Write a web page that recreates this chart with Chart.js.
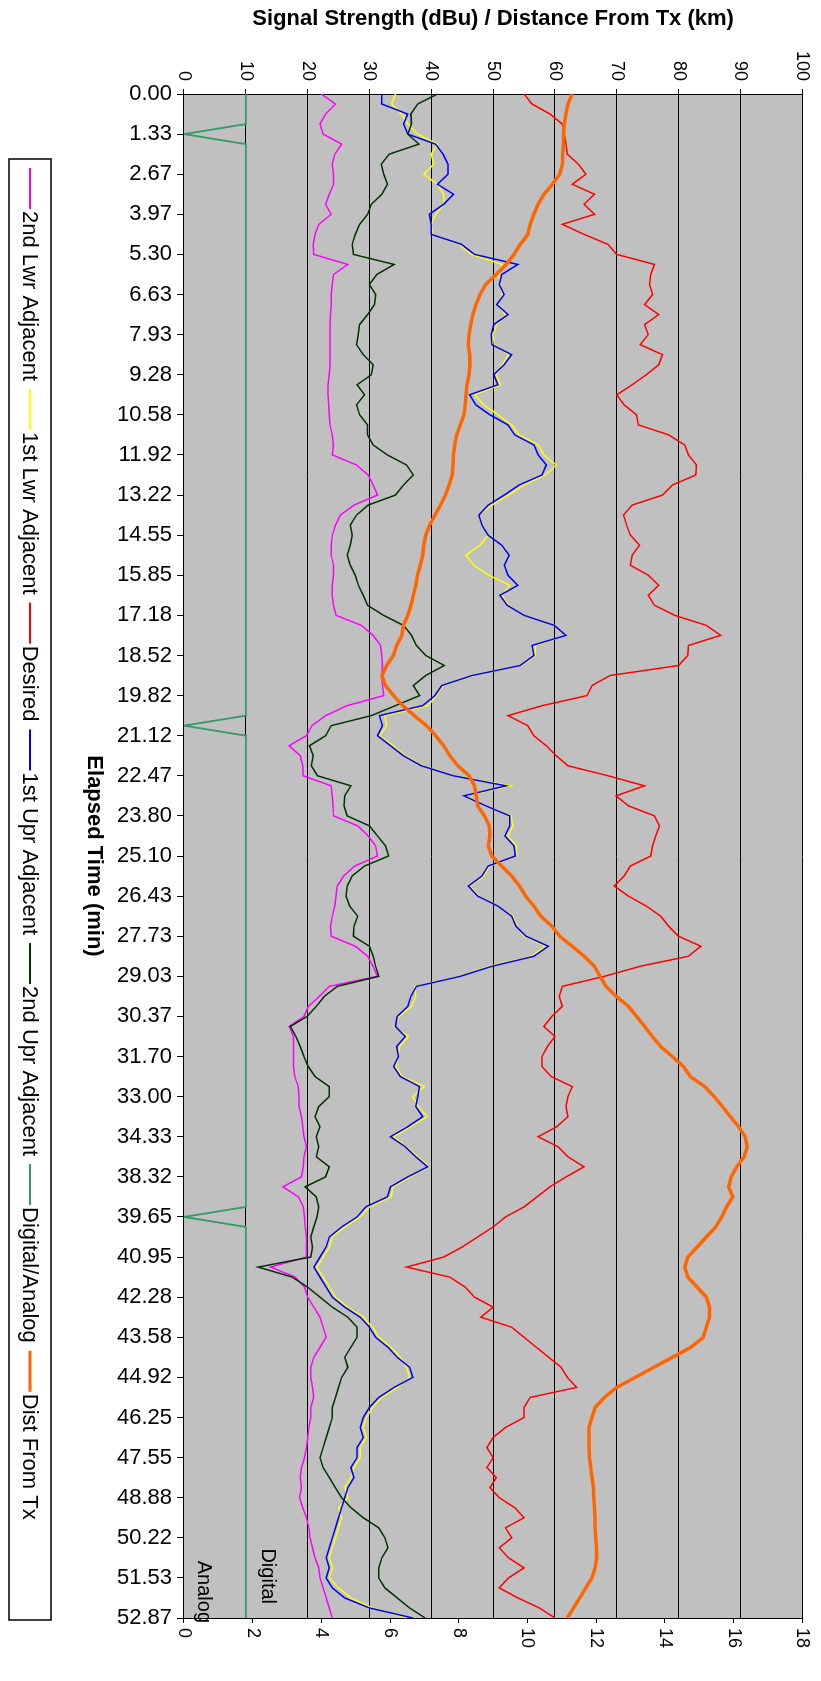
<!DOCTYPE html>
<html>
<head>
<meta charset="utf-8">
<title>Signal Strength vs Elapsed Time</title>
<script src="https://cdn.jsdelivr.net/npm/chart.js@4.4.1/dist/chart.umd.min.js"></script>
<style>
  html, body { margin: 0; padding: 0; background: #fff; }
  body { width: 821px; height: 1681px; overflow: hidden; position: relative; }
  /* the chart is laid out landscape and turned a quarter clockwise */
  #turn { position: absolute; left: 0; top: 0; width: 1681px; height: 821px;
          transform-origin: 0 0; transform: translate(821px, 0) rotate(90deg); }
</style>
</head>
<body>
<div id="turn"><canvas id="signalChart" width="1681" height="821"></canvas></div>
<script>
// labelled elapsed-time ticks (min); 4 samples per labelled step
const timeTicks = ['0.00','1.33','2.67','3.97','5.30','6.63','7.93','9.28','10.58','11.92',
  '13.22','14.55','15.85','17.18','18.52','19.82','21.12','22.47','23.80','25.10',
  '26.43','27.73','29.03','30.37','31.70','33.00','34.33','38.32','39.65','40.95',
  '42.28','43.58','44.92','46.25','47.55','48.88','50.22','51.53','52.87'];
const STEP = 4;

// dBu
const lwr2nd = [
  22.2, 24.5, 22.9, 22.0, 22.5, 25.5, 24.4, 24.0, 24.2, 24.2, 23.5, 22.9, 23.8, 21.8,
  21.2, 20.9, 21.0, 26.5, 24.2, 24.0, 23.8, 23.8, 23.7, 23.6, 23.6, 23.6, 23.6, 23.6,
  23.5, 23.3, 23.3, 23.4, 23.5, 23.6, 24.0, 24.2, 24.0, 27.9, 29.8, 30.6, 31.3, 27.5,
  25.3, 24.5, 24.0, 23.8, 23.8, 24.2, 24.2, 24.0, 24.0, 24.2, 24.6, 28.7, 30.6, 31.8,
  32.0, 32.1, 32.0, 32.1, 32.3, 26.4, 22.9, 20.7, 19.8, 17.0, 18.8, 19.2, 19.3, 23.8,
  24.0, 24.1, 24.2, 28.1, 29.8, 31.0, 31.3, 27.6, 25.8, 24.8, 24.6, 24.4, 24.0, 23.7,
  23.8, 27.7, 29.7, 30.6, 31.3, 23.5, 21.9, 20.1, 19.4, 17.0, 17.7, 17.7, 17.7, 17.7,
  17.9, 18.5, 18.6, 18.6, 19.0, 19.2, 19.4, 19.8, 19.4, 19.3, 19.0, 16.0, 18.5, 19.3,
  19.5, 19.6, 19.8, 19.8, 19.8, 14.0, 18.0, 19.5, 20.0, 21.0, 22.0, 22.5, 23.0, 22.0,
  21.0, 20.5, 20.5, 20.8, 21.0, 20.5, 20.5, 20.2, 20.0, 19.8, 19.5, 19.0, 18.8, 19.0,
  18.7, 19.2, 19.8, 20.2, 20.4, 20.8, 21.2, 21.8, 22.0, 22.5, 23.0, 23.5, 24.0
];
const lwr1st = [
  34.2, 33.6, 35.2, 36.2, 37.8, 41.0, 40.0, 40.4, 38.8, 41.0, 42.0, 42.0, 40.7, 40.0,
  40.2, 44.5, 46.5, 51.5, 51.0, 51.2, 51.5, 50.8, 52.0, 50.6, 50.0, 50.2, 52.5, 51.5,
  50.5, 51.2, 47.0, 48.5, 50.8, 53.0, 54.2, 57.3, 58.2, 60.2, 58.5, 55.0, 52.5, 49.8,
  47.7, 48.2, 49.2, 47.9, 45.6, 46.9, 49.3, 52.7, 51.4, 52.5, 55.0, 59.9, 61.8, 56.8,
  56.8, 54.6, 46.8, 41.9, 40.8, 39.5, 32.5, 32.8, 31.6, 33.8, 35.8, 38.6, 43.8, 52.8,
  45.6, 48.6, 52.9, 53.2, 52.4, 53.8, 53.8, 49.4, 48.5, 46.2, 47.7, 50.9, 53.2, 53.9,
  55.0, 58.5, 56.2, 49.4, 44.5, 37.3, 37.5, 36.8, 34.8, 34.0, 36.3, 34.9, 34.6, 34.3,
  35.3, 38.9, 37.0, 37.9, 39.3, 36.6, 33.9, 36.0, 37.8, 39.6, 36.6, 33.8, 33.5, 30.0,
  28.5, 26.0, 24.0, 23.5, 22.5, 21.5, 22.5, 23.5, 24.5, 26.5, 29.0, 30.5, 31.5, 33.5,
  35.0, 36.0, 36.5, 34.5, 32.0, 30.5, 29.5, 29.0, 29.5, 28.5, 28.5, 27.5, 27.0, 26.0,
  26.5, 25.0, 25.5, 25.0, 24.5, 24.0, 23.5, 24.0, 23.5, 25.0, 27.0, 30.5, 36.0
];
const desired = [
  55.0, 56.3, 59.2, 61.2, 61.5, 61.8, 62.0, 63.8, 65.0, 62.8, 66.4, 64.7, 66.4, 61.2,
  64.7, 68.6, 70.0, 76.1, 75.5, 75.3, 75.8, 74.5, 76.8, 74.5, 75.1, 73.8, 77.4, 76.8,
  74.8, 72.5, 70.0, 71.2, 73.2, 73.5, 78.4, 81.0, 81.6, 82.9, 82.8, 79.0, 77.4, 72.5,
  71.1, 71.6, 72.2, 73.7, 72.5, 72.2, 75.1, 76.8, 75.1, 76.1, 79.4, 84.5, 86.8, 81.6,
  81.5, 80.0, 68.9, 66.0, 65.2, 58.0, 52.4, 55.6, 56.6, 58.6, 60.2, 62.1, 68.6, 74.5,
  69.9, 71.9, 76.1, 76.9, 76.3, 75.8, 75.5, 72.2, 71.2, 69.6, 71.9, 74.8, 77.1, 78.4,
  80.0, 83.6, 81.6, 73.8, 68.0, 61.2, 60.7, 61.2, 59.5, 58.2, 60.0, 58.8, 57.9, 57.9,
  59.4, 62.8, 62.1, 61.8, 62.1, 60.3, 57.3, 60.5, 62.1, 64.7, 61.8, 59.2, 57.1, 55.0,
  52.0, 50.0, 47.5, 45.0, 42.0, 36.0, 43.0, 45.5, 47.0, 50.0, 48.0, 53.0, 55.0, 57.0,
  59.0, 61.0, 62.0, 63.5, 56.0, 55.0, 55.0, 52.0, 50.0, 49.0, 50.0, 49.0, 50.5, 49.5,
  51.0, 53.5, 55.0, 52.0, 53.0, 51.0, 52.5, 55.0, 52.5, 51.0, 54.0, 57.5, 60.0
];
const upr1st = [
  32.0, 32.0, 36.2, 35.5, 36.2, 40.7, 41.9, 42.7, 42.7, 41.0, 43.6, 42.0, 39.7, 40.0,
  40.0, 44.9, 47.0, 54.0, 51.4, 51.0, 51.8, 50.6, 52.4, 50.1, 49.7, 49.8, 53.0, 51.8,
  50.1, 50.8, 46.2, 47.2, 49.5, 52.4, 53.5, 56.6, 57.3, 58.6, 57.9, 54.2, 51.8, 49.2,
  47.7, 48.2, 49.2, 51.4, 52.6, 51.8, 52.4, 54.0, 51.1, 52.3, 55.0, 59.9, 61.8, 56.3,
  56.6, 54.4, 46.6, 41.7, 40.6, 38.6, 31.6, 32.1, 31.3, 33.4, 35.5, 38.4, 43.6, 52.1,
  45.3, 48.8, 52.7, 52.7, 51.9, 53.4, 53.6, 49.2, 48.2, 46.0, 47.5, 50.8, 53.0, 53.7,
  55.3, 58.9, 56.6, 49.8, 44.7, 37.6, 36.7, 36.2, 34.5, 34.2, 35.8, 34.4, 34.7, 33.9,
  35.0, 38.1, 37.8, 37.5, 38.6, 36.2, 33.4, 35.8, 37.5, 39.4, 36.2, 33.4, 32.9, 29.4,
  28.0, 25.5, 23.5, 23.0, 22.0, 21.0, 22.0, 23.0, 24.0, 26.0, 28.5, 30.0, 31.0, 33.0,
  34.5, 36.5, 37.0, 34.0, 31.5, 30.0, 29.0, 28.5, 29.0, 28.0, 28.0, 27.0, 27.5, 26.5,
  26.0, 25.5, 25.0, 24.5, 24.0, 23.5, 23.0, 23.5, 23.0, 24.0, 26.0, 30.0, 37.0
];
const upr2nd = [
  41.0, 37.8, 36.7, 36.8, 36.2, 38.0, 33.2, 31.9, 32.3, 32.9, 32.0, 30.3, 29.7, 28.4,
  27.7, 27.2, 27.4, 34.0, 31.2, 30.0, 31.0, 30.8, 29.7, 28.4, 28.2, 27.9, 29.0, 30.6,
  30.3, 28.0, 29.2, 27.9, 28.4, 29.7, 29.7, 30.6, 32.9, 36.0, 37.1, 35.5, 34.2, 29.8,
  27.9, 26.9, 27.2, 26.9, 26.4, 26.9, 27.7, 28.2, 29.0, 29.7, 32.3, 35.5, 36.8, 37.6,
  39.1, 42.1, 39.1, 37.1, 38.1, 34.2, 30.3, 23.8, 22.9, 20.3, 20.9, 20.6, 21.6, 27.0,
  26.0, 25.9, 26.4, 30.0, 31.3, 32.6, 33.1, 29.2, 27.2, 26.4, 26.2, 26.8, 28.1, 27.5,
  27.4, 30.0, 30.6, 31.0, 31.5, 24.8, 22.7, 21.4, 19.9, 17.2, 18.1, 18.8, 19.4, 20.1,
  21.2, 23.5, 23.5, 21.8, 21.2, 22.0, 21.4, 21.8, 21.4, 23.5, 22.9, 19.6, 21.4, 21.8,
  21.5, 21.0, 20.5, 20.8, 20.5, 12.0, 17.5, 20.0, 22.0, 24.0, 26.5, 28.0, 28.0, 27.0,
  26.0, 26.5, 25.5, 25.0, 24.5, 24.0, 24.0, 23.5, 23.0, 22.5, 22.0, 22.5, 23.5, 24.5,
  25.5, 27.0, 29.0, 31.5, 32.5, 33.0, 32.0, 31.5, 31.5, 32.5, 34.5, 36.5, 39.0
];
// 10 = digital decode, 0 = fell back to analog
const digitalAnalog = [
  10, 10, 10, 10, 0, 10, 10, 10, 10, 10, 10, 10, 10, 10,
  10, 10, 10, 10, 10, 10, 10, 10, 10, 10, 10, 10, 10, 10,
  10, 10, 10, 10, 10, 10, 10, 10, 10, 10, 10, 10, 10, 10,
  10, 10, 10, 10, 10, 10, 10, 10, 10, 10, 10, 10, 10, 10,
  10, 10, 10, 10, 10, 10, 10, 0, 10, 10, 10, 10, 10, 10,
  10, 10, 10, 10, 10, 10, 10, 10, 10, 10, 10, 10, 10, 10,
  10, 10, 10, 10, 10, 10, 10, 10, 10, 10, 10, 10, 10, 10,
  10, 10, 10, 10, 10, 10, 10, 10, 10, 10, 10, 10, 10, 10,
  0, 10, 10, 10, 10, 10, 10, 10, 10, 10, 10, 10, 10, 10,
  10, 10, 10, 10, 10, 10, 10, 10, 10, 10, 10, 10, 10, 10,
  10, 10, 10, 10, 10, 10, 10, 10, 10, 10, 10, 10, 10
];
// km, right-hand axis
const distKm = [
  11.30, 11.18, 11.12, 11.07, 11.05, 11.05, 11.03, 11.02, 10.94, 10.73, 10.48, 10.31, 10.19, 10.08,
  10.01, 9.79, 9.61, 9.38, 9.09, 8.78, 8.62, 8.50, 8.41, 8.35, 8.30, 8.28, 8.32, 8.33,
  8.30, 8.24, 8.21, 8.19, 8.15, 8.05, 7.94, 7.88, 7.85, 7.83, 7.81, 7.72, 7.61, 7.47,
  7.31, 7.15, 7.04, 6.98, 6.95, 6.88, 6.80, 6.75, 6.68, 6.61, 6.52, 6.39, 6.34, 6.19,
  6.10, 5.90, 5.76, 5.87, 6.10, 6.37, 6.71, 7.06, 7.33, 7.56, 7.74, 7.97, 8.30, 8.46,
  8.51, 8.55, 8.75, 8.89, 8.91, 8.86, 8.96, 9.25, 9.54, 9.77, 9.95, 10.19, 10.39, 10.71,
  10.94, 11.30, 11.65, 11.95, 12.11, 12.29, 12.58, 12.94, 13.18, 13.41, 13.64, 13.88, 14.22, 14.54,
  14.74, 15.16, 15.44, 15.68, 15.91, 16.15, 16.34, 16.40, 16.31, 16.09, 15.93, 15.86, 15.98, 15.80,
  15.66, 15.48, 15.21, 14.94, 14.67, 14.58, 14.67, 14.94, 15.21, 15.30, 15.30, 15.21, 15.12, 14.76,
  14.22, 13.68, 13.14, 12.60, 12.24, 11.97, 11.88, 11.79, 11.79, 11.79, 11.81, 11.84, 11.88, 11.92,
  11.93, 11.95, 11.97, 11.97, 11.99, 12.01, 12.02, 11.97, 11.88, 11.70, 11.52, 11.34, 11.16
];

// one category per sample, only every STEP-th one carries a label
const categories = [];
timeTicks.forEach((t, n) => {
  categories.push(t);
  if (n < timeTicks.length - 1) {
    for (let s = 1; s < STEP; s++) categories.push('');
  }
});

const series = [
  { label: '2nd Lwr Adjacent', data: lwr2nd, color: '#ff00ff', width: 1.5 },
  { label: '1st Lwr Adjacent', data: lwr1st, color: '#ffff00', width: 1.5 },
  { label: 'Desired', data: desired, color: '#ff0000', width: 1.5 },
  { label: '1st Upr Adjacent', data: upr1st, color: '#0000ff', width: 1.5 },
  { label: '2nd Upr Adjacent', data: upr2nd, color: '#003300', width: 1.5 },
  { label: 'Digital/Analog', data: digitalAnalog, color: '#339966', width: 1.8 },
  { label: 'Dist From Tx', data: distKm, color: '#ff6600', width: 3.5, axis: 'y2' }
];

const FONT = '"Liberation Sans", Arial, Helvetica, sans-serif';
Chart.defaults.font.family = FONT;
Chart.defaults.color = '#000';

const plotBackground = {
  id: 'plotBackground',
  beforeDraw(chart) {
    const { ctx, chartArea: a } = chart;
    ctx.save();
    ctx.fillStyle = '#ffffff';
    ctx.fillRect(0, 0, chart.width, chart.height);
    ctx.fillStyle = '#c0c0c0';
    ctx.fillRect(a.left, a.top, a.right - a.left, a.bottom - a.top);
    ctx.restore();
  }
};

// boxed legend running along the bottom edge
const boxLegend = {
  id: 'boxLegend',
  afterDraw(chart) {
    const { ctx } = chart;
    const left = 159, right = 1620, top = 770, bottom = 812;
    const mid = (top + bottom) / 2;
    const sets = chart.data.datasets;
    ctx.save();
    ctx.font = '22px ' + FONT;
    ctx.strokeStyle = '#000';
    ctx.lineWidth = 1.5;
    ctx.strokeRect(left, top, right - left, bottom - top);
    const mark = 41, gapIn = 2, gap = 8;
    let x = left + 9;
    ctx.textBaseline = 'middle';
    ctx.textAlign = 'left';
    sets.forEach(d => {
      ctx.strokeStyle = d.borderColor;
      ctx.lineWidth = Math.max(2, d.borderWidth * 0.8);
      ctx.beginPath();
      ctx.moveTo(x, mid);
      ctx.lineTo(x + mark, mid);
      ctx.stroke();
      x += mark + gapIn;
      ctx.fillStyle = '#000';
      ctx.fillText(d.label, x, mid + 1);
      x += ctx.measureText(d.label).width + gap;
    });
    ctx.restore();
  }
};

// "Digital" / "Analog" notes either side of the flag line
const flagNotes = {
  id: 'flagNotes',
  afterDatasetsDraw(chart) {
    const { ctx, chartArea: a, scales: { y } } = chart;
    ctx.save();
    ctx.font = '20px ' + FONT;
    ctx.fillStyle = '#000';
    ctx.textAlign = 'right';
    ctx.textBaseline = 'middle';
    ctx.fillText('Digital', a.right - 14, y.getPixelForValue(13.5));
    ctx.fillText('Analog', a.right + 5, y.getPixelForValue(3.2));
    ctx.restore();
  }
};

new Chart(document.getElementById('signalChart'), {
  type: 'line',
  data: {
    labels: categories,
    datasets: series.map((s, i) => ({
      label: s.label,
      data: s.data,
      borderColor: s.color,
      backgroundColor: s.color,
      borderWidth: s.width,
      pointRadius: 0,
      tension: 0,
      fill: false,
      yAxisID: s.axis || 'y',
      order: series.length - i
    }))
  },
  options: {
    responsive: false,
    animation: false,
    devicePixelRatio: 1,
    layout: { padding: { top: 17, left: 0, right: 0, bottom: 0 } },
    plugins: { legend: { display: false }, tooltip: { enabled: false } },
    scales: {
      x: {
        type: 'category',
        offset: false,
        afterFit: s => { s.height = 184; },
        grid: {
          drawOnChartArea: false,
          tickLength: 7,
          color: c => (c.index % STEP === 0 ? '#000' : 'rgba(0,0,0,0)')
        },
        border: { display: true, color: '#000', width: 1 },
        ticks: { autoSkip: false, minRotation: 90, maxRotation: 90, padding: 5,
                 font: { size: 22 } },
        title: { display: true, text: 'Elapsed Time (min)',
                 font: { size: 22, weight: 'bold' }, padding: { top: 0, bottom: 81 } }
      },
      y: {
        position: 'left',
        min: 0, max: 100,
        afterFit: s => { s.width = 94; },
        ticks: { stepSize: 10, padding: 8, font: { size: 18 } },
        grid: { color: '#000', lineWidth: 1, tickLength: 5 },
        border: { display: true, color: '#000', width: 1 },
        title: { display: true, text: 'Signal Strength (dBu) / Distance From Tx (km)',
                 font: { size: 22, weight: 'bold' }, padding: { top: 6, bottom: 0 } }
      },
      y2: {
        position: 'right',
        min: 0, max: 18,
        afterFit: s => { s.width = 63; },
        ticks: { stepSize: 2, padding: 5, font: { size: 18 } },
        grid: { drawOnChartArea: false, color: '#000', tickLength: 5 },
        border: { display: true, color: '#000', width: 1 }
      }
    }
  },
  plugins: [plotBackground, boxLegend, flagNotes]
});
</script>
</body>
</html>
